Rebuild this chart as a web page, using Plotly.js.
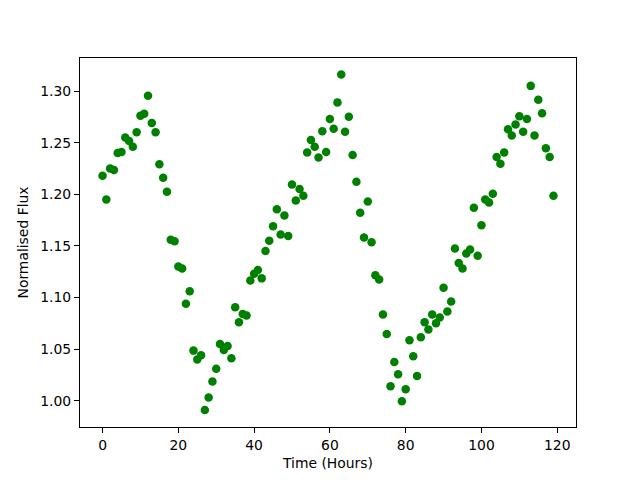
<!DOCTYPE html>
<html>
<head>
<meta charset="utf-8">
<script src="https://cdn.plot.ly/plotly-3.0.1.min.js"></script>
<style>html,body{margin:0;padding:0;background:#fff;}#chart{width:640px;height:480px;}</style>
</head>
<body>
<div id="chart"></div>
<script>
const hours = [];
for (let i = 0; i < 120; i++) hours.push(i);
const flux = [
1.218,1.195,1.225,1.2235,1.240,1.241,1.255,1.2515,1.246,1.260,
1.276,1.278,1.2955,1.269,1.260,1.229,1.216,1.2025,1.156,1.1545,
1.130,1.128,1.094,1.106,1.0485,1.040,1.044,0.991,1.003,1.0185,
1.031,1.055,1.049,1.053,1.041,1.0905,1.076,1.084,1.0825,1.1165,
1.123,1.1265,1.1185,1.145,1.155,1.169,1.1855,1.161,1.1795,1.1595,
1.2095,1.194,1.205,1.1985,1.2405,1.2525,1.246,1.2355,1.261,1.241,
1.273,1.2635,1.289,1.316,1.2605,1.275,1.238,1.212,1.182,1.158,
1.193,1.1535,1.1215,1.1175,1.0835,1.0645,1.014,1.0375,1.0255,0.9995,
1.011,1.0585,1.043,1.024,1.0615,1.076,1.069,1.0835,1.075,1.0805,
1.1095,1.0865,1.096,1.1475,1.1335,1.128,1.1425,1.1465,1.187,1.1405,
1.170,1.195,1.192,1.2005,1.236,1.2295,1.2405,1.263,1.257,1.2675,
1.2755,1.2605,1.273,1.305,1.257,1.2915,1.2785,1.2445,1.236,1.1985
];
const xTitle = "Time (Hours)";
const yTitle = "Normalised Flux";

const font = {family: "DejaVu Sans", size: 13.9, color: "#000"};
Plotly.newPlot("chart", [{
  x: hours, y: flux, type: "scatter", mode: "markers",
  marker: {color: "#008000", size: 8.5, line: {width: 0}}
}], {
  width: 640, height: 480,
  margin: {l: 80, r: 64, t: 58, b: 53, pad: 0},
  paper_bgcolor: "#fff", plot_bgcolor: "#fff",
  showlegend: false,
  font: font,
  xaxis: {
    range: [-5.95, 124.95], tickvals: [0,20,40,60,80,100,120],
    showgrid: false, zeroline: false, showline: true, mirror: true,
    linecolor: "#000", linewidth: 1, ticks: "outside", ticklen: 5, tickwidth: 1, tickcolor: "#000",
    tickfont: font, automargin: false,
    title: {text: xTitle, font: font, standoff: 6}
  },
  yaxis: {
    range: [0.9745, 1.332], tickvals: [1.00,1.05,1.10,1.15,1.20,1.25,1.30], tickformat: ".2f",
    showgrid: false, zeroline: false, showline: true, mirror: true,
    linecolor: "#000", linewidth: 1, ticks: "outside", ticklen: 5, tickwidth: 1, tickcolor: "#000",
    tickfont: font, automargin: false,
    title: {text: yTitle, font: font, standoff: 8}
  }
}, {displayModeBar: false, staticPlot: true});
</script>
</body>
</html>
